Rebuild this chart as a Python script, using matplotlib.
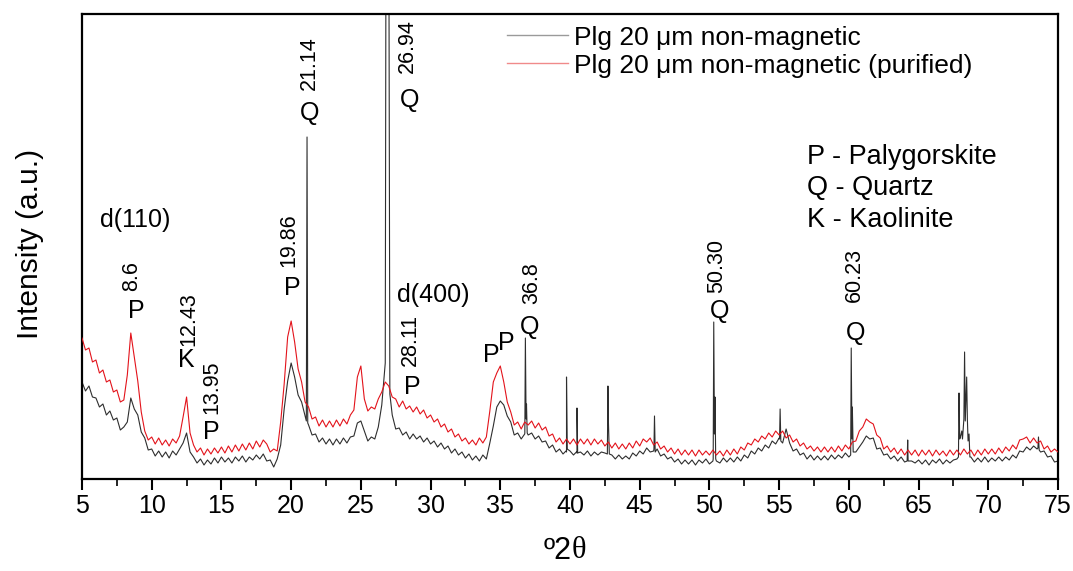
import numpy as np
import matplotlib
matplotlib.use("Agg")
import matplotlib.pyplot as plt
from matplotlib.lines import Line2D

plt.rcParams['font.family'] = ['Liberation Sans', 'DejaVu Sans']

# ---------------- data (intensity in arbitrary units) ----------------
theta_start, theta_step = 5.0, 0.25   # scan grid, degrees 2-theta

black_rows = [
    97, 88, 93, 82,   81, 72, 75, 64,   68, 59, 61, 49,   52, 57, 81, 70,   64, 47, 41, 29,   # 5-9
    30, 23, 28, 22,   27, 21, 28, 24,   30, 36, 46, 27,   22, 16, 20, 14,   19, 15, 21, 16,   # 10-14
    22, 17, 21, 16,   22, 18, 23, 17,   22, 19, 24, 20,   25, 18, 19, 12,   20, 34, 70, 98,   # 15-19
    116, 102, 84, 77, 63, 54, 44, 45,   37, 41, 35, 40,   34, 40, 35, 41,   36, 42, 43, 56,   # 20-24
    58, 48, 38, 42,   40, 52, 74, 116,  600, 64, 50, 51,  44, 47, 40, 45,   40, 43, 37, 41,   # 25-29
    35, 38, 32, 36,   30, 33, 26, 30,   24, 27, 21, 25,   19, 23, 18, 24,   20, 36, 53, 72,   # 30-34
    78, 74, 63, 57,   44, 46, 40, 45,   44, 46, 40, 43,   37, 38, 31, 34,   27, 30, 25, 27,   # 35-39
    28, 24, 26, 27,   24, 28, 23, 27,   24, 27, 26, 60,   24, 20, 24, 20,   23, 20, 26, 23,   # 40-44
    28, 25, 31, 27,   28, 30, 23, 25,   20, 22, 17, 20,   15, 19, 15, 19,   14, 19, 16, 20,   # 45-49
    15, 18, 18, 16,   21, 17, 21, 17,   22, 18, 24, 21,   28, 25, 31, 28,   34, 31, 38, 35,   # 50-54
    41, 36, 50, 36,   28, 30, 24, 26,   20, 24, 19, 23,   19, 23, 19, 24,   20, 24, 21, 26,   # 55-59
    22, 72, 27, 32,   37, 43, 40, 41,   30, 31, 24, 25,   20, 23, 18, 22,   17, 18, 18, 16,   # 60-64
    19, 15, 19, 14,   19, 16, 20, 15,   19, 16, 19, 20,   42, 60, 60, 22,   17, 21, 17, 22,   # 65-69
    17, 21, 18, 22,   18, 22, 19, 24,   21, 28, 27, 32,   29, 33, 30, 27,   28, 22, 23, 17,   # 70-74
    18,                                                                                        # 75
]

red_rows = [
    141, 129, 131, 117, 119, 106, 109, 97, 99, 87, 89, 77,  79, 104, 146, 122, 98, 67, 48, 39,  # 5-9
    42, 35, 41, 34,   39, 33, 40, 36,   43, 62, 82, 46,   34, 27, 31, 24,   30, 25, 31, 26,   # 10-14
    32, 26, 33, 27,   34, 28, 35, 29,   36, 30, 38, 32,   39, 35, 27, 30,   28, 57, 95, 142,  # 15-19
    158, 137, 110, 97, 77, 72, 60, 62,  53, 59, 52, 58,   52, 59, 53, 60,   55, 64, 69, 102,  # 20-24
    113, 80, 68, 72,  70, 80, 87, 97,   93, 82, 80, 72,   78, 70, 73, 67,   72, 65, 69, 61,   # 25-29
    64, 57, 60, 52,   55, 47, 50, 42,   45, 38, 41, 35,   39, 34, 41, 36,   42, 68, 97, 106,  # 30-34
    113, 97, 77, 67,  54, 57, 50, 57,   54, 58, 51, 56,   49, 52, 43, 45,   37, 41, 35, 40,   # 35-39
    35, 40, 34, 40,   35, 40, 34, 40,   35, 39, 33, 37,   31, 36, 30, 35,   30, 36, 31, 38,   # 40-44
    33, 40, 37, 41,   34, 37, 30, 33,   27, 31, 25, 30,   24, 29, 24, 29,   23, 29, 24, 28,   # 45-49
    24, 29, 24, 28,   23, 29, 24, 30,   25, 32, 29, 36,   34, 40, 37, 43,   40, 46, 42, 48,   # 50-54
    44, 48, 41, 44,   37, 40, 33, 36,   30, 33, 28, 32,   27, 32, 27, 32,   27, 33, 28, 34,   # 55-59
    30, 37, 38, 48,   52, 60, 57, 55,   44, 41, 30, 33,   27, 31, 25, 30,   24, 29, 24, 29,   # 60-64
    23, 29, 24, 29,   23, 29, 24, 28,   23, 29, 24, 29,   24, 30, 25, 29,   23, 29, 24, 30,   # 65-69
    25, 30, 25, 31,   26, 32, 28, 34,   30, 39, 40, 42,   36, 41, 36, 38,   30, 33, 27, 30,   # 70-74
    27,                                                                                        # 75
]

# sharp quartz / accessory reflections of the non-purified sample
black_spike_theta = [21.09, 21.14, 21.19, 26.82, 26.94, 27.08,
                     36.76, 36.80, 36.85, 36.88, 36.93,
                     39.71, 39.75, 39.80, 40.46, 40.50, 40.55,
                     42.68, 42.72, 42.82, 46.02, 46.06, 46.11,
                     50.27, 50.31, 50.36, 50.40, 50.45,
                     55.03, 55.07, 55.12, 60.13, 60.17, 60.22, 60.31,
                     64.18, 64.22, 67.86, 67.90, 67.95, 68.10, 68.15,
                     68.30, 68.35, 68.45, 68.55, 68.62, 68.68,
                     73.56, 73.60, 73.65]
black_spike_I = [58, 342, 56, 700, 900, 85,
                 46, 141, 60, 75, 46,
                 28, 102, 30, 27, 71, 26,
                 25, 93, 25, 30, 63, 27,
                 20, 157, 45, 82, 20,
                 40, 70, 38, 24, 131, 40, 27,
                 18, 39, 22, 86, 40, 48, 40,
                 127, 58, 102, 38, 45, 22,
                 31, 42, 29]

series_labels = ["Plg 20 \u03bcm non-magnetic", "Plg 20 \u03bcm non-magnetic (purified)"]
x_ticks = [5, 10, 15, 20, 25, 30, 35, 40, 45, 50, 55, 60, 65, 70, 75]

# peak annotations: (text, 2theta, intensity, rotation)
peak_labels = [
    ("d(110)", 8.80, 259, 0), ("8.6", 8.58, 203, 90), ("P", 8.87, 168, 0),
    ("12.43", 12.65, 160, 90), ("K", 12.48, 119, 0),
    ("13.95", 14.31, 92, 90), ("P", 14.24, 47, 0),
    ("19.86", 19.83, 239, 90), ("P", 20.11, 191, 0),
    ("21.14", 21.33, 416, 90), ("Q", 21.30, 366, 0),
    ("26.94", 28.35, 433, 90), ("Q", 28.50, 379, 0),
    ("d(400)", 30.20, 184, 0), ("28.11", 28.57, 139, 90), ("P", 28.71, 92, 0),
    ("P", 34.37, 124, 0), ("P", 35.44, 136, 0),
    ("36.8", 37.24, 196, 90), ("Q", 37.09, 152, 0),
    ("50.30", 50.55, 213, 90), ("Q", 50.70, 168, 0),
    ("60.23", 60.37, 204, 90), ("Q", 60.51, 146, 0),
]
key_lines = ["P - Palygorskite", "Q - Quartz", "K - Kaolinite"]

# ---------------- build series ----------------
n = len(black_rows)
grid = theta_start + theta_step * np.arange(n)
bx = np.concatenate([grid, black_spike_theta])
by = np.concatenate([np.array(black_rows, float), black_spike_I])
order = np.argsort(bx, kind="stable")
bx, by = bx[order], by[order]
rx = theta_start + theta_step * np.arange(len(red_rows))
ry = np.array(red_rows, float)

# ---------------- figure ----------------
fig = plt.figure(figsize=(10.73, 5.71), dpi=100)
ax = fig.add_axes([82 / 1073, 1 - 479 / 571, (1058 - 82) / 1073, (479 - 14) / 571])

black_col = "#2e2e2e"
red_col = "#e3131b"
ax.plot(bx, by, color=black_col, lw=0.8, zorder=2)
ax.plot(rx, ry, color=red_col, lw=0.8, zorder=3)

ax.set_xlim(5, 75)
ax.set_ylim(0, 465)
ax.set_xticks(x_ticks)
ax.set_xticks(np.array(x_ticks[:-1]) + 2.5, minor=True)
ax.set_yticks([])
ax.tick_params(axis="x", which="major", direction="out", length=8, width=1.5,
               labelsize=18, pad=3)
ax.tick_params(axis="x", which="minor", direction="out", length=5, width=1.2)
for s in ax.spines.values():
    s.set_linewidth(1.6)

# annotations
for txt, x, y, rot in peak_labels:
    ax.text(x, y, txt, rotation=rot, ha="center", va="center",
            fontsize=15.5 if rot else 18, zorder=5)

for i, t in enumerate(key_lines):
    ax.text(57.0, 322 - 31.5 * i, t, ha="left", va="center", fontsize=19.5)

handles = [Line2D([], [], color="#9a9a9a", lw=1.0),
           Line2D([], [], color="#f08a8a", lw=1.0)]
ax.legend(handles, series_labels, loc="upper left",
          bbox_to_anchor=((507 - 82) / 976, 0.975), frameon=False,
          fontsize=19, handlelength=2.3, handletextpad=0.25,
          borderpad=0, borderaxespad=0, labelspacing=0.15)

ax.set_ylabel("Intensity (a.u.)", fontsize=21.5)
ax.yaxis.set_label_coords((44 - 82) / 976, 0.505)
fig.text(572 / 1073, 1 - 551 / 571, "\u00ba2", ha="right", va="center",
         fontsize=22, family=["Liberation Sans Narrow", "Liberation Sans"])
fig.text(572 / 1073, 1 - 551 / 571, "\u03b8", ha="left", va="center",
         fontsize=22, family=["Liberation Serif", "DejaVu Serif"])

fig.savefig("out.png", dpi=100)
